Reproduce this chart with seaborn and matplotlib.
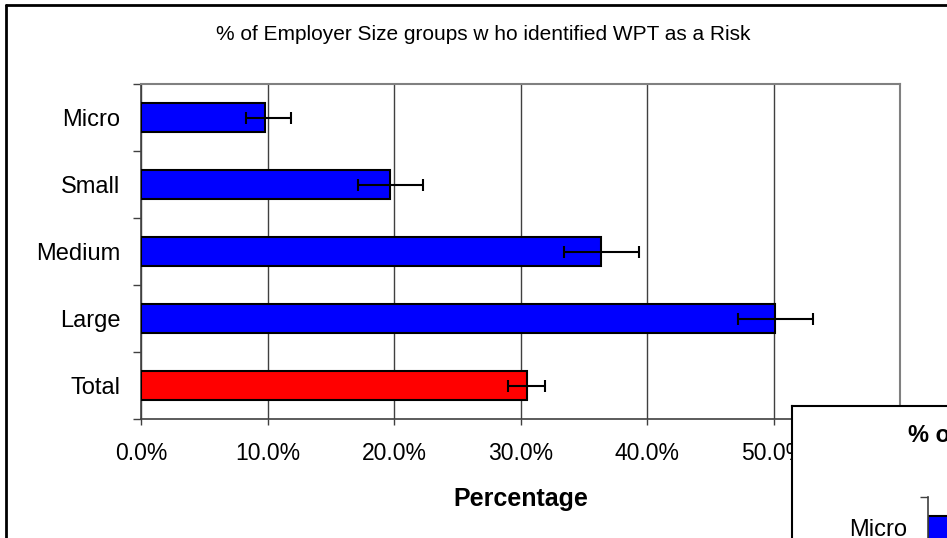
import matplotlib
matplotlib.use("Agg")
import matplotlib.pyplot as plt
import seaborn as sns
import pandas as pd
import numpy as np
from matplotlib.lines import Line2D
from matplotlib.ticker import FixedLocator, PercentFormatter

# ---- data ----
categories = ["Micro", "Small", "Medium", "Large", "Total"]
values = [0.098, 0.197, 0.364, 0.501, 0.305]
err_low = [0.083, 0.1715, 0.334, 0.472, 0.290]
err_high = [0.1186, 0.223, 0.394, 0.531, 0.319]
bar_colors = ["#0000FF", "#0000FF", "#0000FF", "#0000FF", "#FF0000"]
x_ticks = [0.0, 0.1, 0.2, 0.3, 0.4, 0.5, 0.6]
x_tick_labels = ["0.0%", "10.0%", "20.0%", "30.0%", "40.0%", "50.0%", ""]

inset_categories = ["Micro"]
inset_values = [0.10]

title_text = "% of Employer Size groups w ho identified WPT as a Risk"
xlabel_text = "Percentage"
inset_title = "% of"

sns.set_style("white")
plt.rcParams["font.family"] = ["Liberation Sans", "DejaVu Sans"]
for k in ["text.color", "axes.labelcolor", "xtick.labelcolor", "ytick.labelcolor"]:
    plt.rcParams[k] = "black"

W, H = 947, 538
fig = plt.figure(figsize=(W / 100, H / 100), dpi=100)
fig.patch.set_facecolor("white")

def fx(px):
    return px / W

def fy(py):
    return 1 - py / H

# main axes: x 141..900, y 84..419
ax = fig.add_axes([fx(141), fy(419), fx(900) - fx(141), fy(84) - fy(419)])
df = pd.DataFrame({"cat": categories, "val": values})
sns.barplot(data=df, x="val", y="cat", hue="cat", palette=bar_colors,
            order=categories, hue_order=categories, orient="h",
            width=0.42, errorbar=None, legend=False, ax=ax,
            edgecolor="black", linewidth=1.5, zorder=3, saturation=1)

vals = np.array(values)
xerr = np.vstack([vals - np.array(err_low), np.array(err_high) - vals])
ax.errorbar(vals, np.arange(len(categories)), xerr=xerr, fmt="none",
            ecolor="black", elinewidth=1.5, capsize=4.3, capthick=1.5, zorder=4)

ax.set_xlim(0, 0.6)
ax.set_ylim(len(categories) - 0.5, -0.5)
ax.xaxis.set_major_locator(FixedLocator(x_ticks))
ax.set_xticklabels(x_tick_labels)
ax.grid(axis="x", color="#404040", linewidth=1.0, zorder=0)
ax.set_axisbelow(True)

ax.set_yticks(range(len(categories)))
ax.set_yticklabels(categories)
ax.yaxis.set_minor_locator(FixedLocator(np.arange(-0.5, len(categories), 1.0)))
ax.tick_params(axis="y", which="major", length=0, pad=15, labelsize=17, colors="black")
ax.tick_params(axis="y", which="minor", left=True, length=6, width=1, color="#404040")
ax.tick_params(axis="x", which="major", bottom=True, length=4.5, width=1, color="#404040",
               pad=12, labelsize=16.5, labelcolor="black")

ax.set_ylabel("")
ax.set_xlabel(xlabel_text, fontsize=18, fontweight="bold", labelpad=16, color="black")

for side in ["left", "bottom"]:
    ax.spines[side].set_color("#404040")
    ax.spines[side].set_linewidth(1.2)
for side in ["top", "right"]:
    ax.spines[side].set_color("#808080")
    ax.spines[side].set_linewidth(1.5)

fig.text(fx(483), fy(34), title_text, fontsize=15, ha="center", va="center", color="black")

# outer chart border (left and top visible)
fig.add_artist(Line2D([fx(6), fx(6)], [fy(5), 0], color="black", linewidth=2,
                      transform=fig.transFigure))
fig.add_artist(Line2D([fx(6), 1], [fy(5), fy(5)], color="black", linewidth=2,
                      transform=fig.transFigure))

# overlapping second chart box (bottom-right)
box = fig.add_axes([fx(792), 0, 1 - fx(792) + 0.05, fy(406)])
box.set_facecolor("white")
box.set_xticks([])
box.set_yticks([])
for side, sp in box.spines.items():
    sp.set_color("black")
    sp.set_linewidth(1.5)
box.spines["right"].set_visible(False)
box.spines["bottom"].set_visible(False)
box.set_xlim(0, 1)
box.set_ylim(0, 1)
fig.text(fx(908), fy(436), inset_title, fontsize=17, fontweight="bold",
         ha="left", va="center", color="black")

# inner axes of the second chart
in_h = 335
ax2 = fig.add_axes([fx(927.7), fy(497 + in_h), 0.8, fy(497) - fy(497 + in_h)])
df2 = pd.DataFrame({"cat": inset_categories, "val": inset_values})
sns.barplot(data=df2, x="val", y="cat", color="#0000FF", orient="h",
            width=0.42, errorbar=None, ax=ax2, edgecolor="black",
            linewidth=1.5, saturation=1)
ax2.set_xlim(0, 0.3)
ax2.set_ylim(4.5, -0.5)
ax2.set_facecolor("none")
ax2.set_yticks([0])
ax2.set_yticklabels(inset_categories)
ax2.yaxis.set_minor_locator(FixedLocator([-0.5, 0.5]))
ax2.tick_params(axis="y", which="major", length=0, pad=15, labelsize=17, labelcolor="black")
ax2.tick_params(axis="y", which="minor", left=True, length=6, width=1, color="#404040")
for lbl in ax2.get_yticklabels():
    lbl.set_verticalalignment("center")
    lbl.set_y(lbl.get_position()[1])
ax2.set_xticks([])
ax2.set_xlabel("")
ax2.set_ylabel("")
for side in ["top", "right", "bottom"]:
    ax2.spines[side].set_visible(False)
ax2.spines["left"].set_color("#404040")
ax2.spines["left"].set_linewidth(1.2)

fig.savefig("out.png", dpi=100, facecolor="white")
